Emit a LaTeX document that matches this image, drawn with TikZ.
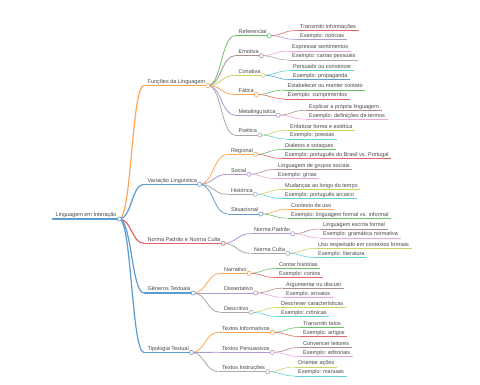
\documentclass[tikz,border=0pt]{standalone}
\usepackage{fontspec}
\setmainfont{Liberation Sans}
\usetikzlibrary{calc}
\definecolor{cA}{HTML}{5E9BD0}% blue
\definecolor{cB}{HTML}{FFA657}% orange
\definecolor{cC}{HTML}{6CC06C}% green
\definecolor{cD}{HTML}{E06668}% red
\definecolor{cE}{HTML}{B097D2}% purple
\definecolor{cF}{HTML}{AE8E88}% brown
\definecolor{cG}{HTML}{EDA6D8}% pink
\definecolor{cH}{HTML}{A8A8A8}% gray
\definecolor{cI}{HTML}{D0D163}% olive
\definecolor{cJ}{HTML}{5DD2DD}% cyan
\definecolor{txtgray}{HTML}{484848}
\tikzset{
  mmtext/.style={font=\fontsize{5.5}{6}\selectfont, text=txtgray, inner sep=0pt, anchor=base west},
  mmdot/.style={fill=white, line width=0.6pt},
}
% name, X, U, text, colour, width
\newcommand\mmnode[6]{%
  \node[mmtext] (#1) at ({#2+3.5},{#3-2.2}) {#4};
  \coordinate (#1-s) at (#2,#3);
  \path (#1.base east) ++(2.5,2.2) coordinate (#1-c);
  \draw[#5, line width=#6] (#1-s) -- (#1-c);
}
% parent, child, colour, width
\newcommand\mmedge[4]{%
  \draw[#3, line width=#4] let \p1=(#1-c), \p2=(#2-s) in
    (\p1) .. controls ({0.5*\x1+0.5*\x2},\y1) and ({0.5*\x1+0.5*\x2},\y2) .. (\p2);
}
\newcommand\mmdotat[2]{\draw[mmdot, draw=#2] (#1-c) circle (2.1pt);}
\begin{document}
\begin{tikzpicture}[x=1pt,y=-1pt]
\fill[white] (0,0) rectangle (480,384);
\useasboundingbox (0,0) rectangle (480,384);
% ---- nodes ----
\mmnode{root}{52}{219}{Linguagem em Interação}{cA}{1.6pt}
\mmnode{fun}{144}{85.5}{Funções da Linguagem}{cB}{1.2pt}
\mmnode{var}{144}{184.3}{Variação Linguística}{cA}{1.2pt}
\mmnode{nor}{144}{243.3}{Norma Padrão e Norma Culta}{cD}{1.2pt}
\mmnode{gen}{144}{293}{Gêneros Textuais}{cA}{1.2pt}
\mmnode{tip}{144}{352.5}{Tipologia Textual}{cA}{1.2pt}
% Funções
\mmnode{ref}{235}{35.7}{Referencial}{cC}{0.8pt}
\mmnode{emo}{235}{55.7}{Emotiva}{cF}{0.8pt}
\mmnode{con}{235}{75.2}{Conativa}{cI}{0.8pt}
\mmnode{fat}{235}{94.5}{Fática}{cB}{0.8pt}
\mmnode{met}{235}{115.2}{Metalinguística}{cE}{0.8pt}
\mmnode{poe}{235}{135}{Poética}{cH}{0.8pt}
\mmnode{ref1}{296.5}{30.5}{Transmitir informações}{cD}{0.6pt}
\mmnode{ref2}{296.5}{39.5}{Exemplo: notícias}{cE}{0.6pt}
\mmnode{emo1}{288.5}{51}{Expressar sentimentos}{cG}{0.6pt}
\mmnode{emo2}{288.5}{60}{Exemplo: cartas pessoais}{cH}{0.6pt}
\mmnode{con1}{289.5}{70.7}{Persuadir ou convencer}{cJ}{0.6pt}
\mmnode{con2}{289.5}{79.5}{Exemplo: propaganda}{cA}{0.6pt}
\mmnode{fat1}{284}{90}{Estabelecer ou manter contato}{cC}{0.6pt}
\mmnode{fat2}{284}{98.8}{Exemplo: cumprimentos}{cD}{0.6pt}
\mmnode{met1}{305.5}{110.3}{Explicar a própria linguagem}{cF}{0.6pt}
\mmnode{met2}{305.5}{119.2}{Exemplo: definições de termos}{cG}{0.6pt}
\mmnode{poe1}{286.5}{130.2}{Enfatizar forma e estética}{cI}{0.6pt}
\mmnode{poe2}{286.5}{139}{Exemplo: poesias}{cJ}{0.6pt}
% Variação
\mmnode{reg}{227.5}{154.3}{Regional}{cB}{0.8pt}
\mmnode{soc}{227.5}{174.3}{Social}{cE}{0.8pt}
\mmnode{his}{227.5}{194.3}{Histórica}{cH}{0.8pt}
\mmnode{sit}{227.5}{214}{Situacional}{cA}{0.8pt}
\mmnode{reg1}{281.5}{149.5}{Dialetos e sotaques}{cC}{0.6pt}
\mmnode{reg2}{281.5}{158.5}{Exemplo: português do Brasil vs. Portugal}{cD}{0.6pt}
\mmnode{soc1}{274.5}{169.5}{Linguagem de grupos sociais}{cF}{0.6pt}
\mmnode{soc2}{274.5}{178.5}{Exemplo: gírias}{cG}{0.6pt}
\mmnode{his1}{281.5}{189.5}{Mudanças ao longo do tempo}{cI}{0.6pt}
\mmnode{his2}{281.5}{198.5}{Exemplo: português arcaico}{cJ}{0.6pt}
\mmnode{sit1}{287.5}{209.2}{Contexto de uso}{cB}{0.6pt}
\mmnode{sit2}{287.5}{218.2}{Exemplo: linguagem formal vs. informal}{cC}{0.6pt}
% Norma
\mmnode{npa}{250.5}{233.7}{Norma Padrão}{cE}{0.8pt}
\mmnode{ncu}{250.5}{253.3}{Norma Culta}{cH}{0.8pt}
\mmnode{npa1}{319.5}{229}{Linguagem escrita formal}{cF}{0.6pt}
\mmnode{npa2}{319.5}{238}{Exemplo: gramática normativa}{cG}{0.6pt}
\mmnode{ncu1}{314.5}{248.5}{Uso respeitado em contextos formais}{cI}{0.6pt}
\mmnode{ncu2}{314.5}{257.5}{Exemplo: literatura}{cJ}{0.6pt}
% Gêneros
\mmnode{nar}{220.5}{273.3}{Narrativo}{cB}{0.8pt}
\mmnode{dis}{220.5}{293}{Dissertativo}{cE}{0.8pt}
\mmnode{des}{220.5}{312.3}{Descritivo}{cH}{0.8pt}
\mmnode{nar1}{275.5}{268.5}{Contar histórias}{cC}{0.6pt}
\mmnode{nar2}{275.5}{277.5}{Exemplo: contos}{cD}{0.6pt}
\mmnode{dis1}{282.5}{288.2}{Argumentar ou discutir}{cF}{0.6pt}
\mmnode{dis2}{282.5}{297.2}{Exemplo: ensaios}{cG}{0.6pt}
\mmnode{des1}{277.5}{307.5}{Descrever características}{cI}{0.6pt}
\mmnode{des2}{277.5}{316.5}{Exemplo: crônicas}{cJ}{0.6pt}
% Tipologia
\mmnode{inf}{218.5}{332.3}{Textos Informativos}{cB}{0.8pt}
\mmnode{per}{218.5}{352.3}{Textos Persuasivos}{cE}{0.8pt}
\mmnode{ins}{218.5}{371.7}{Textos Instruções}{cH}{0.8pt}
\mmnode{inf1}{299.5}{327.5}{Transmitir fatos}{cC}{0.6pt}
\mmnode{inf2}{299.5}{336.5}{Exemplo: artigos}{cD}{0.6pt}
\mmnode{per1}{299.5}{347.5}{Convencer leitores}{cF}{0.6pt}
\mmnode{per2}{299.5}{356.5}{Exemplo: editoriais}{cG}{0.6pt}
\mmnode{ins1}{294.5}{367}{Orientar ações}{cI}{0.6pt}
\mmnode{ins2}{294.5}{376}{Exemplo: manuais}{cJ}{0.6pt}
% ---- edges ----
\mmedge{root}{fun}{cB}{1.2pt}
\mmedge{root}{var}{cA}{1.2pt}
\mmedge{root}{nor}{cD}{1.2pt}
\mmedge{root}{gen}{cA}{1.2pt}
\mmedge{root}{tip}{cA}{1.2pt}
\mmedge{fun}{ref}{cC}{0.8pt}
\mmedge{fun}{emo}{cF}{0.8pt}
\mmedge{fun}{con}{cI}{0.8pt}
\mmedge{fun}{fat}{cB}{0.8pt}
\mmedge{fun}{met}{cE}{0.8pt}
\mmedge{fun}{poe}{cH}{0.8pt}
\mmedge{ref}{ref1}{cD}{0.6pt}
\mmedge{ref}{ref2}{cE}{0.6pt}
\mmedge{emo}{emo1}{cG}{0.6pt}
\mmedge{emo}{emo2}{cH}{0.6pt}
\mmedge{con}{con1}{cJ}{0.6pt}
\mmedge{con}{con2}{cA}{0.6pt}
\mmedge{fat}{fat1}{cC}{0.6pt}
\mmedge{fat}{fat2}{cD}{0.6pt}
\mmedge{met}{met1}{cF}{0.6pt}
\mmedge{met}{met2}{cG}{0.6pt}
\mmedge{poe}{poe1}{cI}{0.6pt}
\mmedge{poe}{poe2}{cJ}{0.6pt}
\mmedge{var}{reg}{cB}{0.8pt}
\mmedge{var}{soc}{cE}{0.8pt}
\mmedge{var}{his}{cH}{0.8pt}
\mmedge{var}{sit}{cA}{0.8pt}
\mmedge{reg}{reg1}{cC}{0.6pt}
\mmedge{reg}{reg2}{cD}{0.6pt}
\mmedge{soc}{soc1}{cF}{0.6pt}
\mmedge{soc}{soc2}{cG}{0.6pt}
\mmedge{his}{his1}{cI}{0.6pt}
\mmedge{his}{his2}{cJ}{0.6pt}
\mmedge{sit}{sit1}{cB}{0.6pt}
\mmedge{sit}{sit2}{cC}{0.6pt}
\mmedge{nor}{npa}{cE}{0.8pt}
\mmedge{nor}{ncu}{cH}{0.8pt}
\mmedge{npa}{npa1}{cF}{0.6pt}
\mmedge{npa}{npa2}{cG}{0.6pt}
\mmedge{ncu}{ncu1}{cI}{0.6pt}
\mmedge{ncu}{ncu2}{cJ}{0.6pt}
\mmedge{gen}{nar}{cB}{0.8pt}
\mmedge{gen}{dis}{cE}{0.8pt}
\mmedge{gen}{des}{cH}{0.8pt}
\mmedge{nar}{nar1}{cC}{0.6pt}
\mmedge{nar}{nar2}{cD}{0.6pt}
\mmedge{dis}{dis1}{cF}{0.6pt}
\mmedge{dis}{dis2}{cG}{0.6pt}
\mmedge{des}{des1}{cI}{0.6pt}
\mmedge{des}{des2}{cJ}{0.6pt}
\mmedge{tip}{inf}{cB}{0.8pt}
\mmedge{tip}{per}{cE}{0.8pt}
\mmedge{tip}{ins}{cH}{0.8pt}
\mmedge{inf}{inf1}{cC}{0.6pt}
\mmedge{inf}{inf2}{cD}{0.6pt}
\mmedge{per}{per1}{cF}{0.6pt}
\mmedge{per}{per2}{cG}{0.6pt}
\mmedge{ins}{ins1}{cI}{0.6pt}
\mmedge{ins}{ins2}{cJ}{0.6pt}
% ---- circles on parent nodes ----
\mmdotat{root}{cA}
\mmdotat{fun}{cB}\mmdotat{var}{cA}\mmdotat{nor}{cD}\mmdotat{gen}{cA}\mmdotat{tip}{cA}
\mmdotat{ref}{cC}\mmdotat{emo}{cF}\mmdotat{con}{cI}\mmdotat{fat}{cB}\mmdotat{met}{cE}\mmdotat{poe}{cH}
\mmdotat{reg}{cB}\mmdotat{soc}{cE}\mmdotat{his}{cH}\mmdotat{sit}{cA}
\mmdotat{npa}{cE}\mmdotat{ncu}{cH}
\mmdotat{nar}{cB}\mmdotat{dis}{cE}\mmdotat{des}{cH}
\mmdotat{inf}{cB}\mmdotat{per}{cE}\mmdotat{ins}{cH}
\end{tikzpicture}
\end{document}
